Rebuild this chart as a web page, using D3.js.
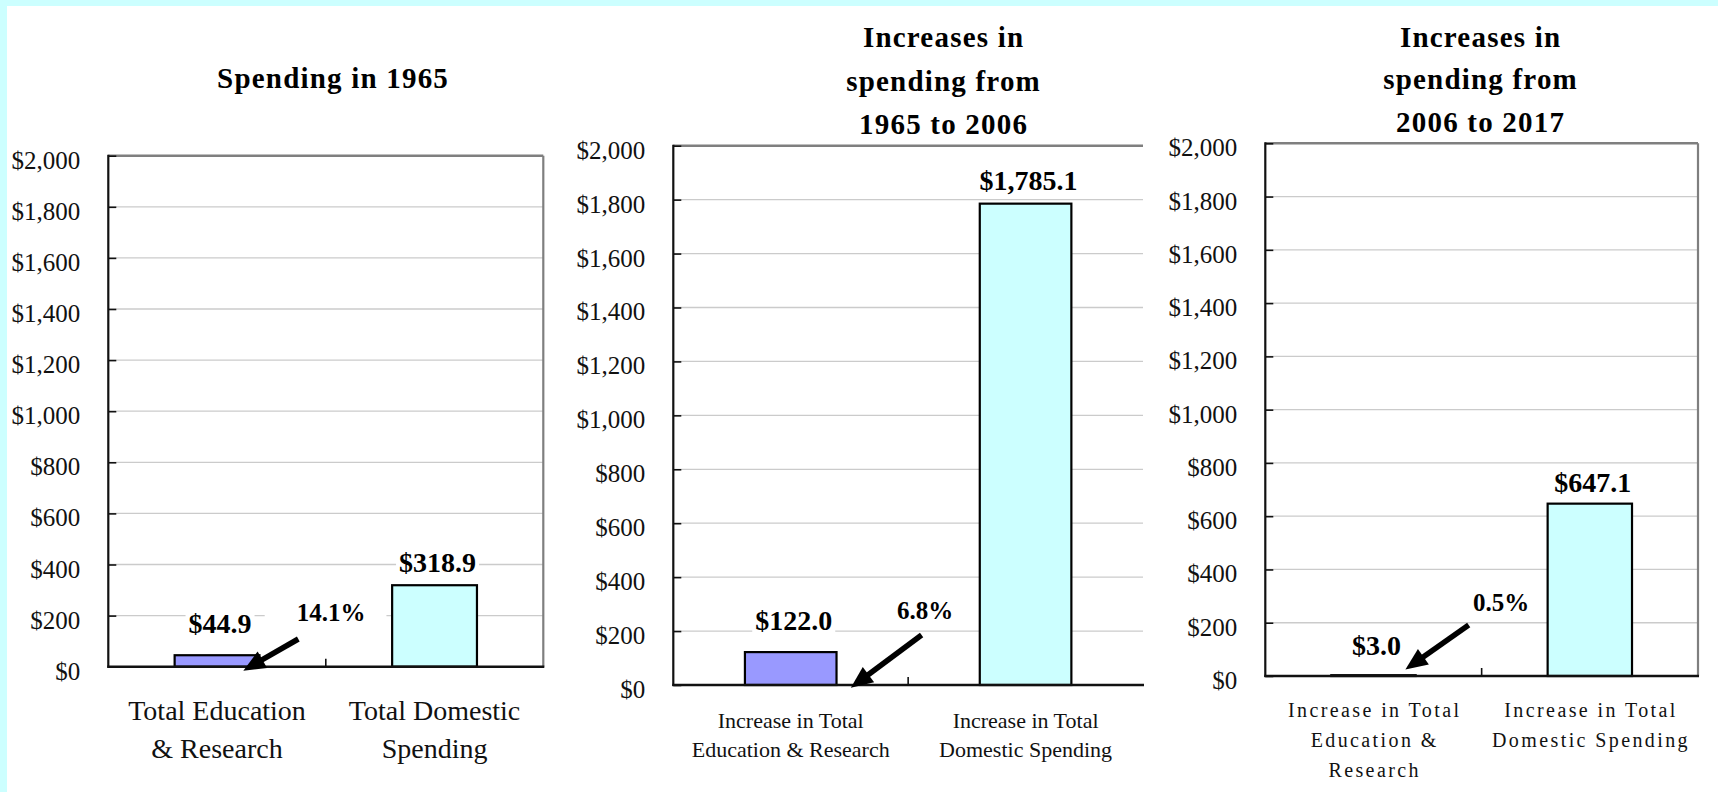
<!DOCTYPE html>
<html><head><meta charset="utf-8">
<script src="https://cdn.jsdelivr.net/npm/d3@7"></script>
<style>html,body{margin:0;padding:0;background:#fff;} svg{display:block;}</style>
</head><body><svg id="chart" width="1718" height="792"></svg>
<script>
// ---------- data ----------
const yTicks = [0, 200, 400, 600, 800, 1000, 1200, 1400, 1600, 1800, 2000];
const titles1 = ["Spending in 1965"];
const titles2 = ["Increases in", "spending from", "1965 to 2006"];
const titles3 = ["Increases in", "spending from", "2006 to 2017"];
const categories1 = [["Total Education", "& Research"], ["Total Domestic", "Spending"]];
const categories2 = [["Increase in Total", "Education & Research"], ["Increase in Total", "Domestic Spending"]];
const categories3 = [["Increase in Total", "Education &", "Research"], ["Increase in Total", "Domestic Spending"]];
const values1 = [44.9, 318.9];
const values2 = [122.0, 1785.1];
const values3 = [3.0, 647.1];
const shares = ["14.1%", "6.8%", "0.5%"];
const barColors = ["#9999FF", "#CCFFFF"];

// ---------- layout / style ----------
const FONT = "'Liberation Serif', 'Times New Roman', serif";
const panels = [
  { titles: titles1, cats: categories1, vals: values1, share: shares[0],
    left: 108.3, right: 543.3, top: 155.7, bottom: 666.7, rightBorder: true,
    titleX: 332.5, titleY: [88],
    catSize: 28, catLS: 0, catY: [720, 758],
    labelDy: [-22, -13],
    shareX: 296.7, shareY: 621, shareBox: [-32, 21],
    arrow: [[298.3, 639], [243.3, 670.7]] },
  { titles: titles2, cats: categories2, vals: values2, share: shares[1],
    left: 673.3, right: 1143, top: 145.7, bottom: 685, rightBorder: false,
    titleX: 943, titleY: [47, 90.5, 134],
    catSize: 22, catLS: 0, catY: [728.3, 756.7],
    labelDy: [-22, -14],
    shareX: 897, shareY: 619.3, shareBox: [-10, 10],
    arrow: [[921.6, 635], [850.8, 687.7]] },
  { titles: titles3, cats: categories3, vals: values3, share: shares[2],
    left: 1265.3, right: 1698, top: 143.3, bottom: 676, rightBorder: true,
    titleX: 1480, titleY: [46.5, 89, 132],
    catSize: 20, catLS: 2.4, catY: [716.7, 746.7, 776.7],
    labelDy: [-20, -12],
    shareX: 1473, shareY: 610.7, shareBox: [-10, 10],
    arrow: [[1468.7, 625], [1405.4, 669.5]] }
];

const svg = d3.select("#chart");
svg.append("rect").attr("x", 0).attr("y", 0).attr("width", 1718).attr("height", 792).attr("fill", "#CCFFFF");
svg.append("rect").attr("x", 7).attr("y", 6).attr("width", 1711).attr("height", 786).attr("fill", "#FFFFFF");

const fmtVal = d => "$" + d3.format(",.1f")(d);
const fmtTick = d => "$" + d3.format(",")(d);

panels.forEach(p => {
  const g = svg.append("g");
  const y = d3.scaleLinear().domain([0, 2000]).range([p.bottom, p.top]);
  const x = d3.scaleBand().domain(d3.range(p.vals.length)).range([p.left, p.right])
    .paddingInner(0.61).paddingOuter(0.305);

  // gridlines
  g.append("g").selectAll("line").data(yTicks.filter(t => t > 0 && t < 2000)).join("line")
    .attr("x1", p.left).attr("x2", p.right)
    .attr("y1", d => y(d)).attr("y2", d => y(d))
    .attr("stroke", "#CBCBCB").attr("stroke-width", 1.3);

  // bars
  g.append("g").selectAll("rect").data(p.vals).join("rect")
    .attr("x", (d, i) => x(i)).attr("width", x.bandwidth())
    .attr("y", d => y(d)).attr("height", d => y(0) - y(d))
    .attr("fill", (d, i) => barColors[i])
    .attr("stroke", "#000").attr("stroke-width", 2.2);

  // top / right border
  g.append("line").attr("x1", p.left).attr("x2", p.right).attr("y1", p.top).attr("y2", p.top)
    .attr("stroke", "#7F7F7F").attr("stroke-width", 2.4);
  if (p.rightBorder) {
    g.append("line").attr("x1", p.right).attr("x2", p.right).attr("y1", p.top).attr("y2", p.bottom)
      .attr("stroke", "#7F7F7F").attr("stroke-width", 2.2);
  }

  // y axis
  const ya = g.append("g").attr("transform", `translate(${p.left},0)`)
    .call(d3.axisLeft(y).tickValues(yTicks).tickFormat(fmtTick)
      .tickSizeInner(-8).tickSizeOuter(0).tickPadding(28));
  ya.select(".domain").remove();
  ya.selectAll(".tick line").attr("stroke", "#111").attr("stroke-width", 1.6);
  ya.selectAll(".tick text").attr("font-family", FONT).attr("font-size", 25)
    .attr("fill", "#111").attr("dy", "0.5em");
  g.append("line").attr("x1", p.left).attr("x2", p.left).attr("y1", p.top - 1).attr("y2", p.bottom + 1)
    .attr("stroke", "#111").attr("stroke-width", 2.2);

  // x axis
  g.append("line").attr("x1", p.left - 1).attr("x2", p.right + 1).attr("y1", p.bottom).attr("y2", p.bottom)
    .attr("stroke", "#111").attr("stroke-width", 2.4);
  const mid = (p.left + p.right) / 2;
  g.append("line").attr("x1", mid).attr("x2", mid).attr("y1", p.bottom).attr("y2", p.bottom - 8)
    .attr("stroke", "#111").attr("stroke-width", 1.6);

  // category labels
  p.cats.forEach((lines, i) => {
    const t = g.append("text").attr("font-family", FONT).attr("font-size", p.catSize)
      .attr("fill", "#111").attr("text-anchor", "middle")
      .attr("letter-spacing", p.catLS);
    lines.forEach((ln, j) => {
      t.append("tspan").attr("x", x(i) + x.bandwidth() / 2 + p.catLS / 2).attr("y", p.catY[j]).text(ln);
    });
  });

  // value labels with white background
  p.vals.forEach((v, i) => {
    const cx = x(i) + x.bandwidth() / 2 + 3;
    const by = y(v) + p.labelDy[i];
    const lg = g.append("g");
    const bg = lg.append("rect").attr("fill", "#fff");
    const t = lg.append("text").attr("x", cx).attr("y", by)
      .attr("font-family", FONT).attr("font-size", 28).attr("font-weight", "bold")
      .attr("text-anchor", "middle").attr("fill", "#000").text(fmtVal(v));
    const w = t.node().getComputedTextLength();
    bg.attr("x", cx - w / 2 - 3).attr("width", w + 6).attr("y", by - 19).attr("height", 23);
  });

  // share annotation
  const sg = g.append("g");
  const sbg = sg.append("rect").attr("fill", "#fff");
  const st = sg.append("text").attr("x", p.shareX).attr("y", p.shareY)
    .attr("font-family", FONT).attr("font-size", 25).attr("font-weight", "bold")
    .attr("fill", "#000").text(p.share);
  const sw = st.node().getComputedTextLength();
  sbg.attr("x", p.shareX + p.shareBox[0]).attr("width", sw - p.shareBox[0] + p.shareBox[1])
    .attr("y", p.shareY - 24).attr("height", 32);

  // arrow
  const [s, tip] = p.arrow;
  const dx = tip[0] - s[0], dy = tip[1] - s[1];
  const len = Math.hypot(dx, dy);
  const ux = dx / len, uy = dy / len;
  const headLen = 22, headW = 19;
  const bx = tip[0] - ux * headLen, by2 = tip[1] - uy * headLen;
  const nx = -uy, ny = ux;
  g.append("line").attr("x1", s[0]).attr("y1", s[1]).attr("x2", bx + ux * 2).attr("y2", by2 + uy * 2)
    .attr("stroke", "#000").attr("stroke-width", 5.5);
  g.append("path")
    .attr("d", d3.line()([[tip[0], tip[1]], [bx + nx * headW / 2, by2 + ny * headW / 2], [bx - nx * headW / 2, by2 - ny * headW / 2]]) + "Z")
    .attr("fill", "#000");

  // title
  const tt = g.append("text").attr("font-family", FONT).attr("font-size", 29).attr("font-weight", "bold")
    .attr("text-anchor", "middle").attr("fill", "#000").attr("letter-spacing", 1.2);
  p.titles.forEach((ln, j) => tt.append("tspan").attr("x", p.titleX + 0.6).attr("y", p.titleY[j]).text(ln));
});
</script></body></html>
